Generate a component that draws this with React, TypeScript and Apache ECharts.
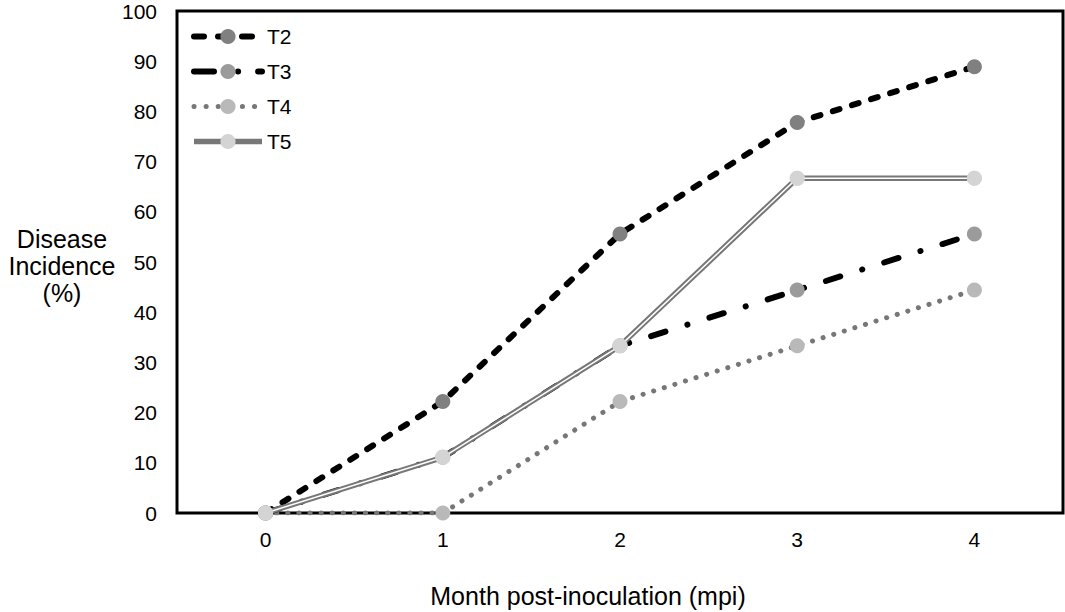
import React, { useEffect, useRef } from "react";
import * as echarts from "echarts";

const categories = ["0", "1", "2", "3", "4"];
const t2 = [0, 22.2, 55.6, 77.8, 88.9];
const t3 = [0, 11.1, 33.3, 44.4, 55.6];
const t4 = [0, 0, 22.2, 33.3, 44.4];
const t5 = [0, 11.1, 33.3, 66.7, 66.7];
const yTitle = "Disease\nIncidence\n(%)";
const xTitle = "Month post-inoculation (mpi)";

const FONT = "Liberation Sans, Arial, sans-serif";

const styleT2 = { color: "#000", width: 6, type: [7, 13], cap: "round" };
const styleT3 = { color: "#000", width: 6, type: [15, 23, 0.1, 23], cap: "round" };
const styleT4 = { color: "#777", width: 5, type: [0.1, 11], cap: "round" };
const styleT5 = { color: "#777", width: 5.5, type: "solid" };

export default function App() {
  const ref = useRef<HTMLDivElement>(null);
  useEffect(() => {
    if (!ref.current) return;
    const chart = echarts.init(ref.current, null, { renderer: "svg" });
    chart.setOption({
      animation: false,
      backgroundColor: "#fff",
      textStyle: { fontFamily: FONT },
      grid: {
        left: 177,
        top: 11,
        right: 2,
        bottom: 99,
        show: true,
        borderColor: "#000",
        borderWidth: 3,
        backgroundColor: "transparent",
      },
      legend: {
        data: [
          { name: "T2", lineStyle: { ...styleT2, type: [10, 14] } },
          { name: "T3", lineStyle: { ...styleT3, type: [20, 24, 0.1, 20] } },
          { name: "T4", lineStyle: { ...styleT4, type: [0.1, 12] } },
          { name: "T5", lineStyle: styleT5 },
        ],
        orient: "vertical",
        left: 186,
        top: 21,
        itemWidth: 68,
        itemHeight: 19,
        itemGap: 14,
        textStyle: { fontSize: 21, color: "#000", fontFamily: FONT },
        selectedMode: false,
      },
      xAxis: {
        type: "category",
        data: categories,
        boundaryGap: true,
        axisLine: { show: false },
        axisTick: { show: false },
        axisLabel: { fontSize: 21, color: "#000", margin: 16, fontFamily: FONT },
        splitLine: { show: false },
      },
      yAxis: {
        type: "value",
        min: 0,
        max: 100,
        interval: 10,
        axisLine: { show: false },
        axisTick: { show: false },
        axisLabel: { fontSize: 21, color: "#000", margin: 20, fontFamily: FONT },
        splitLine: { show: false },
      },
      graphic: [
        {
          type: "text",
          x: 62,
          y: 266,
          style: {
            text: yTitle,
            font: `25px ${FONT}`,
            fill: "#000",
            textAlign: "center",
            textVerticalAlign: "middle",
            lineHeight: 27,
          },
        },
        {
          type: "text",
          x: 588,
          y: 596,
          style: {
            text: xTitle,
            font: `25px ${FONT}`,
            fill: "#000",
            textAlign: "center",
            textVerticalAlign: "middle",
          },
        },
      ],
      series: [
        {
          name: "T4",
          type: "line",
          data: t4,
          symbol: "circle",
          symbolSize: 15,
          z: 2,
          itemStyle: { color: "#b9b9b9" },
          lineStyle: styleT4,
        },
        {
          name: "T3",
          type: "line",
          data: t3,
          symbol: "circle",
          symbolSize: 15,
          z: 3,
          itemStyle: { color: "#9b9b9b" },
          lineStyle: styleT3,
        },
        {
          name: "T2",
          type: "line",
          data: t2,
          symbol: "circle",
          symbolSize: 15,
          z: 4,
          itemStyle: { color: "#808080" },
          lineStyle: styleT2,
        },
        {
          name: "T5",
          type: "line",
          data: t5,
          symbol: "circle",
          symbolSize: 15,
          z: 5,
          itemStyle: { color: "#d4d4d4" },
          lineStyle: styleT5,
        },
        {
          name: "T5w",
          type: "line",
          data: t5,
          showSymbol: false,
          symbol: "none",
          silent: true,
          z: 6,
          lineStyle: { color: "#fff", width: 1.5 },
        },
        {
          name: "T5m",
          type: "line",
          data: t5,
          symbol: "circle",
          symbolSize: 15,
          silent: true,
          z: 7,
          itemStyle: { color: "#d4d4d4" },
          lineStyle: { opacity: 0, width: 0 },
        },
      ],
    });
    return () => chart.dispose();
  }, []);
  return (
    <div
      ref={ref}
      style={{ position: "fixed", left: 0, top: 0, width: 1065, height: 612, background: "#fff" }}
    />
  );
}
